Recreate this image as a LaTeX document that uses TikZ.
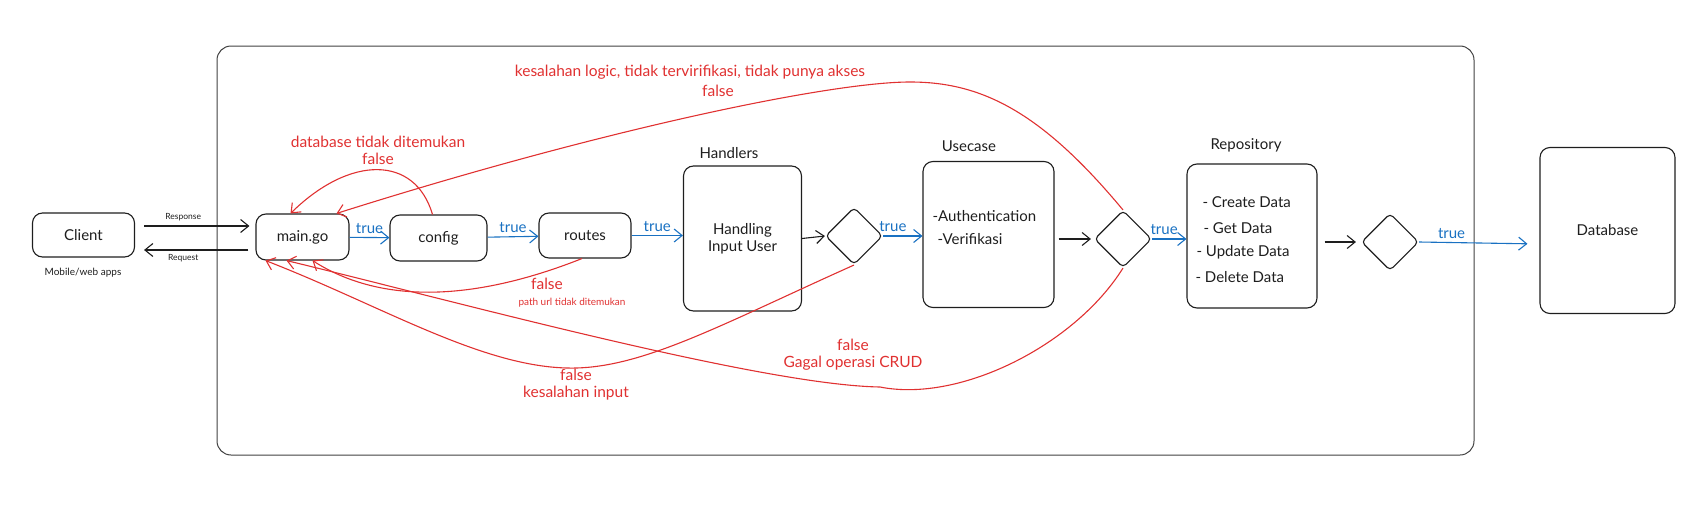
\documentclass[tikz,border=0pt]{standalone}
\usepackage{fontspec}
\setmainfont{Lato}
\usetikzlibrary{arrows.meta,shapes.geometric}
\definecolor{ink}{HTML}{1E1E1E}
\definecolor{okblue}{HTML}{1971C2}
\definecolor{failred}{HTML}{E03131}

\begin{document}
\begin{tikzpicture}[x=1pt, y=-1pt,
              every node/.style={font=\fontsize{15}{17}\selectfont, text=ink},
              box/.style={draw=ink, line width=1.1pt, rounded corners=10pt},
              decision/.style={draw=ink, line width=1.1pt, diamond, aspect=1, minimum size=57pt, inner sep=0pt, rounded corners=4pt},
              flow/.style={draw=ink, line width=1.1pt, -{Straight Barb[length=8pt,width=13pt]}},
              ok/.style={flow, draw=okblue},
              fail/.style={flow, draw=failred, line width=1.1pt},
              oktext/.style={text=okblue},
              failtext/.style={text=failred, font=\fontsize{15.5}{17}\selectfont}
            ]
              \useasboundingbox (0,0) rectangle (1701,506);
              \draw[line width=1pt, draw=ink!85, rounded corners=14pt] (217,46) rectangle (1474,455);

              \node[box, minimum width=102pt, minimum height=44pt] (client) at (83.5,235) {Client};
              \node[font=\fontsize{10}{12}\selectfont] (clientnote) at (83,273) {Mobile/web apps};
              \node[box, minimum width=93pt, minimum height=46pt] (main) at (302.5,237) {main.go};
              \node[box, minimum width=97pt, minimum height=46pt] (config) at (438.5,238) {config};
              \node[box, minimum width=92pt, minimum height=45pt] (routes) at (585,235.5) {routes};
              \node[box, minimum width=118pt, minimum height=145pt, align=center] (handlers) at (742.5,238.5) {Handling\\Input User};
              \node (handlerstitle) at (729,153) {Handlers};
              \node[decision] (d1) at (854,236) {};
              \node[box, minimum width=131pt, minimum height=146pt] (usecase) at (988.5,234.5) {};
              \node (usecasetitle) at (969,146) {Usecase};
              \node[anchor=west] (auth) at (929,216) {-Authentication};
              \node[anchor=west] (verif) at (934,239) {-Verifikasi};
              \node[decision] (d2) at (1123,239) {};
              \node[box, minimum width=130pt, minimum height=144pt] (repo) at (1252,236) {};
              \node (repotitle) at (1246,145) {Repository};
              \node[anchor=west] (create) at (1199,202) {- Create Data};
              \node[anchor=west] (get) at (1200,228) {- Get Data};
              \node[anchor=west] (update) at (1193,252) {- Update Data};
              \node[anchor=west] (delete) at (1192,277) {- Delete Data};
              \node[decision] (d3) at (1390,242) {};
              \node[box, minimum width=135pt, minimum height=166pt] (database) at (1607.5,230.5) {Database};

              % request / response
              \draw[flow, shorten <=9pt, shorten >=6pt] ([yshift=9pt]client.east) -- ([yshift=9pt]client.east -| main.west)
                node[pos=0.4, above=1pt, font=\fontsize{8.5}{10}\selectfont] {Response};
              \draw[flow, shorten <=7pt, shorten >=9pt] ([yshift=-13pt]main.west) -- ([yshift=-13pt]main.west -| client.east)
                node[pos=0.6, below=1pt, font=\fontsize{8.5}{10}\selectfont] {Request};

              % true path
              \draw[ok] (main) -- (config) node[midway, above=0pt, oktext] {true};
              \draw[ok] (config) -- (routes) node[midway, above=0pt, oktext] {true};
              \draw[ok] (routes.east) -- (routes.east -| handlers.west) node[midway, above=0pt, oktext] {true};
              \draw[flow] (handlers.east) -- (d1.west);
              \draw[ok] (d1.east) -- (d1.east -| usecase.west) node[pos=0.25, above=0pt, oktext] {true};
              \draw[flow, shorten <=4pt, shorten >=3pt] (usecase.east |- d2.west) -- (d2.west);
              \draw[ok] (d2.east) -- (d2.east -| repo.west) node[pos=0.35, above=0pt, oktext] {true};
              \draw[flow, shorten <=7pt, shorten >=5pt] (repo.east |- d3.west) -- (d3.west);
              \draw[ok, shorten >=12pt] (d3.east) -- ([yshift=-2pt]d3.east -| database.west) node[pos=0.27, above=0pt, oktext] {true};

              % false path
              \draw[fail] ([xshift=-6pt]config.north) .. controls (415,155) and (350,155) .. ([xshift=-12pt]main.north);
              \node[failtext, align=center] (dbfail) at (378,150) {database tidak ditemukan\\false};
              \draw[fail] (d2.north) .. controls (1040,110) and (980,82) .. (910,82) .. controls (830,82) and (600,130) .. ([xshift=34pt]main.north);
              \node[failtext] (logicfail) at (690,72) {kesalahan logic, tidak tervirifikasi, tidak punya akses};
              \node[failtext] (logicfalse) at (718,91) {false};
              \draw[fail] ([xshift=-3pt]routes.south) .. controls (490,295) and (390,310) .. ([xshift=10pt]main.south);
              \node[failtext] (routefalse) at (547,284) {false};
              \node[failtext, font=\fontsize{10}{12}\selectfont] (routefail) at (572,303) {path url tidak ditemukan};
              \draw[fail] (d1.south) .. controls (720,325) and (640,370) .. (567,368) .. controls (480,366) and (380,305) .. ([xshift=-37pt]main.south);
              \node[failtext, align=center] (inputfail) at (576,385) {false\\kesalahan input};
              \draw[fail] (d2.south) .. controls (1075,345) and (960,403) .. (880,387) .. controls (760,385) and (450,300) .. ([xshift=-16pt]main.south);
              \node[failtext, align=center] (crudfail) at (853,355) {false\\Gagal operasi CRUD};
            \end{tikzpicture}
\end{document}
